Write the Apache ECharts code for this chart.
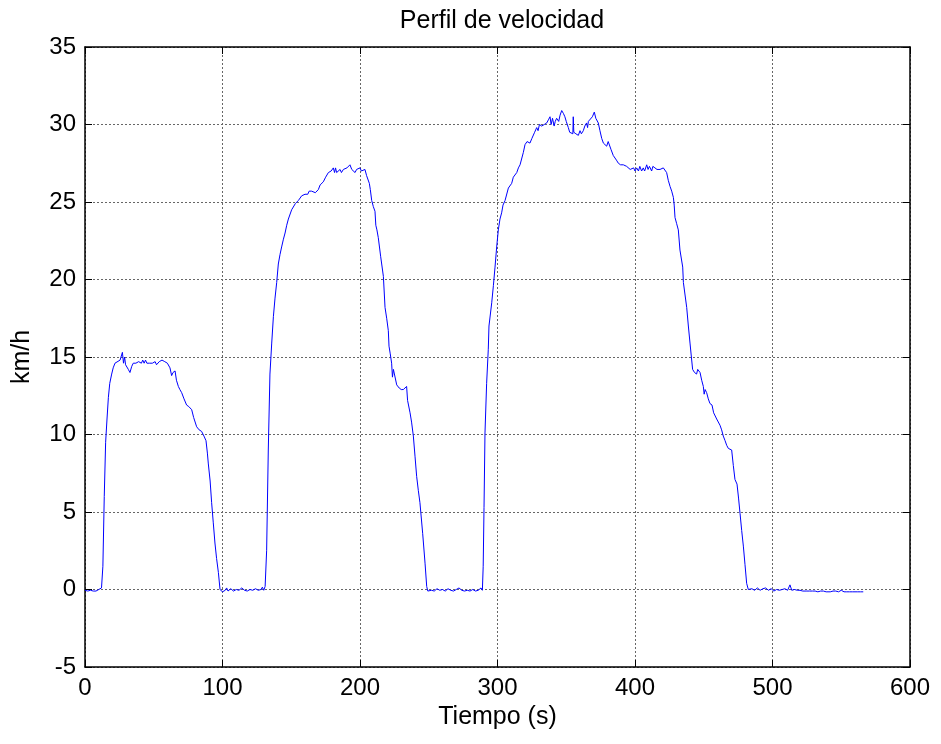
<!DOCTYPE html>
<html>
<head>
<meta charset="utf-8">
<title>Perfil de velocidad</title>
<script src="https://cdn.jsdelivr.net/npm/echarts@6/dist/echarts.min.js"></script>
<style>
  html, body { margin: 0; padding: 0; background: #fff; }
  #chart { width: 941px; height: 744px; }
</style>
</head>
<body>
<div id="chart"></div>
<script>
// tiempo en s, velocidad en km/h
const tiempo = [
  0, 2, 4, 6, 8, 10, 11, 12,
  13, 14, 15, 16, 17, 18, 19.4, 20.5, 21.8, 23, 25.5, 26, 27.2, 28, 28.8, 29.5, 30.3, 31.5, 32.7, 34, 35.1,
  37, 39, 41, 42, 43, 44, 45, 47, 49, 51, 52, 54, 56, 57, 58, 59.9, 61, 61.8, 63, 64, 65.5, 66.5, 67.9,
  69, 70.3, 72, 73.9, 75.5, 77.6, 79, 81.2, 83, 84.8, 86.5, 88, 89, 89.7, 91, 92.1, 93.3, 94.5, 95.7, 97, 98.2, 99, 100,
  102, 103, 104, 106, 108, 110, 112, 114, 116, 118, 120, 122, 124, 126, 128, 129, 130, 131,
  132.1, 133.3, 134.5, 135.8, 137, 138.2, 139.4, 140.6, 141.8, 143, 144.3, 145.5, 146.7, 147.9, 149.1, 150.3, 151.5,
  153, 155.2, 156.5, 157.6, 160, 162, 163, 164.8, 166, 167.5, 169.7, 171, 173.3, 175, 177, 179, 180.6, 181.5, 182.2,
  183, 184, 185.5, 186.5, 187.9, 189, 190.5, 191.5, 192.7, 194, 195.2, 196.4, 197.5, 198.8, 200, 201, 202, 203.6,
  204.8, 206.8, 207.5, 208.5, 209.7, 210.9, 211.5, 212.3, 213.3, 215, 217, 218.2, 219.4, 220.6, 221.1, 222, 223,
  223.6, 224.3, 225.5, 226.7, 228.5, 230, 231.5, 233.9, 234.6, 236.4, 237.5, 238.8, 240, 241.2, 242.4, 243.6,
  245.6, 247.3, 248.5, 249.3, 250,
  252, 254, 256, 258, 260, 262, 264, 266, 268, 270, 272, 274, 276, 278, 280, 282, 284, 286, 288, 289,
  289.6, 290.2, 290.9, 292.1, 293.3, 293.8, 295.8, 297, 298.2, 299.4, 300.6, 301.8, 303, 304, 305.5, 306.5, 307.9,
  309, 310.3, 311.5, 312.7, 314, 315.2, 316.4, 317.6, 318.8, 320, 321.5, 323.6, 325, 326, 327, 328.5, 329.5, 330.5,
  332.1, 334, 335.8, 337, 338.2, 339, 340, 341.2, 342, 343, 344.5, 345.5, 346.7, 348, 349, 350, 351.5, 352.5, 353.9,
  354.8, 355.1, 355.5, 357, 358.8, 360, 361, 362.4, 363.5, 364.8, 365.5, 366.1, 367.5, 369, 370.4, 371.5, 372.5,
  373.3, 374.5, 375.8, 377, 378, 379.4, 380.5, 381.8, 382.5, 383.5, 384.2, 385.5, 386.5, 387.9, 389.5, 391.5, 393.9,
  395.2, 396.5, 397.6, 399, 400, 401.2, 402.5, 403.5, 404.8, 406, 407, 408.5, 409.5, 410.5, 412.1, 413, 414.5, 416,
  417, 418.2, 419.5, 420.6, 421.5, 423, 424.2, 425.5, 426.7, 427.9, 428.5, 429.1, 430.3, 431.5, 432.7, 434.7, 435.2,
  436.4, 437.6, 438.8, 440, 441, 441.9, 443.3, 444.8, 445.6, 446.5, 447.3, 448.5, 449.7, 450.3, 451, 452.1, 453.3,
  454.5, 456, 457.2, 458.2, 459.4, 460.6, 461.8, 463, 464.2, 465.5, 466.7, 467.9, 469, 470.3, 471.5, 472.7, 474.2,
  475.3, 476.4, 477.6, 478.8, 480, 481.2, 482.4, 483.5,
  485, 487, 489, 491, 493, 495, 497, 499, 501, 503, 505, 507, 509, 511, 512.7, 514, 516, 518, 520, 522, 523, 525,
  527, 529, 531, 533, 535, 537, 539, 540, 542, 544, 546, 548, 550, 552, 554, 556, 558, 560, 562, 564, 566
];
const velocidad = [
  -0.05, -0.1, -0.05, -0.1, -0.1, 0.0, -0.1, 0.1,
  1.5, 6, 9.5, 11, 12.4, 13.3, 13.9, 14.3, 14.6, 14.7, 14.8, 14.7, 15.3, 14.6, 15.0, 14.5, 14.5, 14.2, 14.0, 14.4, 14.6,
  14.6, 14.7, 14.6, 14.8, 14.6, 14.8, 14.6, 14.6, 14.6, 14.7, 14.5, 14.7, 14.8, 14.8, 14.7, 14.6, 14.5, 14.3, 13.8, 14.0, 14.1, 13.5, 13.1,
  12.9, 12.7, 12.3, 11.9, 11.8, 11.6, 11.1, 10.5, 10.3, 10.2, 9.9, 9.6, 8.8, 8.1, 7.0, 5.6, 4.3, 3.0, 2.0, 1.1, 0.0, -0.1, -0.15,
  -0.05, 0.1, -0.1, 0.05, -0.1, 0.0, -0.05, 0.1, -0.05, -0.1, 0.0, -0.05, 0.05, -0.05, 0.0, 0.15, -0.05, 0.2,
  2.5, 9.0, 13.9, 15.9, 17.6, 18.8, 19.8, 21.0, 21.6, 22.1, 22.6, 23.0, 23.5, 23.9, 24.0, 24.5, 24.6,
  24.9, 25.1, 25.0, 25.4, 25.5, 25.5, 25.7, 25.7, 25.8, 25.6, 25.8, 26.1, 26.3, 26.6, 26.9, 27.0, 27.2, 26.9, 27.2,
  26.9, 27.0, 27.1, 26.9, 27.1, 27.0, 27.2, 27.1, 27.4, 27.1, 27.0, 26.9, 27.1, 27.0, 27.2, 27.0, 27.1, 27.1,
  26.7, 26.2, 25.8, 25.1, 24.7, 24.4, 23.5, 23.2, 22.7, 21.5, 20.2, 18.2, 17.5, 16.7, 15.7, 15.2, 14.6,
  13.7, 14.2, 14.1, 13.2, 13.0, 12.9, 12.9, 13.1, 12.2, 11.4, 10.8, 9.9, 8.6, 7.3, 6.4, 5.6,
  3.6, 1.7, 0.2, -0.1, -0.1,
  -0.05, -0.1, 0.05, -0.05, 0.0, -0.1, 0.05, -0.05, -0.1, 0.0, 0.1, -0.05, -0.1, -0.05, -0.1, 0.0, -0.1, -0.05, 0.1, -0.05,
  1.5, 5.3, 10.1, 13.3, 15.5, 17.0, 18.5, 19.6, 20.8, 22.1, 23.2, 23.9, 24.3, 24.8, 25.1, 25.2, 25.9,
  25.8, 26.2, 26.6, 26.6, 26.9, 27.2, 27.4, 27.5, 28.2, 28.7, 28.9, 28.8, 29.1, 29.2, 29.5, 29.8, 29.6, 30.0,
  29.9, 30.0, 30.1, 30.3, 30.5, 30.0, 30.4, 29.9, 30.2, 30.4, 30.2, 30.6, 30.9, 30.7, 30.5, 30.2, 29.8, 29.5, 29.6,
  29.4, 30.5, 29.5, 29.4, 29.3, 29.6, 29.4, 29.6, 29.9, 30.1, 29.8, 30.2, 30.3, 30.5, 30.8, 30.4, 30.4,
  30.1, 29.6, 29.1, 28.8, 28.7, 28.6, 28.9, 29.0, 28.4, 28.5, 28.0, 28.0, 27.7, 27.5, 27.4, 27.4, 27.3,
  27.3, 27.1, 27.0, 27.2, 27.0, 27.2, 27.0, 27.3, 27.0, 27.2, 27.0, 27.4, 27.1, 27.3, 27.0, 27.3, 27.2, 27.1,
  27.0, 27.1, 27.2, 27.2, 27.2, 26.9, 26.4, 26.0, 25.7, 25.3, 24.8, 24.0, 23.6, 23.2, 21.9, 20.8, 19.8,
  19.0, 18.2, 17.0, 15.9, 15.0, 14.2, 14.0, 13.9, 14.2, 14.3, 14.0, 13.5, 13.1, 12.6, 12.9, 12.7, 12.3,
  12.0, 11.9, 11.4, 11.4, 11.0, 10.9, 10.6, 10.3, 9.9, 9.6, 9.3, 9.1, 9.0, 9.0, 8.0, 7.1, 6.8,
  5.9, 4.9, 3.8, 2.8, 1.6, 0.4, 0.0, -0.1,
  0.05, -0.05, 0.1, -0.05, 0.05, 0.1, -0.05, 0.05, -0.1, 0.0, -0.05, 0.0, 0.05, -0.05, 0.3, -0.05, 0.0, -0.05, -0.05, -0.1, 0.0, -0.1,
  -0.1, -0.1, -0.1, -0.15, -0.1, -0.1, -0.15, -0.05, -0.15, -0.1, -0.1, -0.15, -0.05, -0.15, -0.15, -0.15, -0.15, -0.15, -0.15, -0.15, -0.15
];
const xTicks = [0, 600, 100];   // min, max, intervalo
const yTicks = [-5, 35, 5];

let puntos = tiempo.map((t, i) => [t, velocidad[i]]);

let myChart = echarts.init(document.getElementById('chart'));

const fuente = 'Liberation Sans, Arial, sans-serif';
const rejilla = { show: true, lineStyle: { color: '#666', type: [2, 2], width: 1 } };
const marcas = { show: true, inside: true, length: 7, lineStyle: { color: '#000' } };
const linea = { show: true, onZero: false, lineStyle: { color: '#000', width: 1.5 } };

let option = {
  animation: false,
  backgroundColor: '#fff',
  title: {
    text: 'Perfil de velocidad',
    left: 497,
    textAlign: 'center',
    top: 4,
    textStyle: { fontFamily: fuente, fontSize: 25, fontWeight: 'normal', color: '#000' }
  },
  grid: { left: 85, right: 31, top: 47, bottom: 77 },
  xAxis: [
    {
      type: 'value',
      min: xTicks[0], max: xTicks[1], interval: xTicks[2],
      name: 'Tiempo (s)',
      nameLocation: 'middle',
      nameGap: 38,
      nameTextStyle: { fontFamily: fuente, fontSize: 25, color: '#000' },
      axisLine: linea,
      axisTick: marcas,
      axisLabel: { fontFamily: fuente, fontSize: 24, color: '#000', margin: 9 },
      splitLine: rejilla
    },
    {
      type: 'value',
      position: 'top',
      min: xTicks[0], max: xTicks[1], interval: xTicks[2],
      axisLine: linea,
      axisTick: marcas,
      axisLabel: { show: false },
      splitLine: { show: false }
    }
  ],
  yAxis: [
    {
      type: 'value',
      min: yTicks[0], max: yTicks[1], interval: yTicks[2],
      name: 'km/h',
      nameLocation: 'middle',
      nameGap: 50,
      nameTextStyle: { fontFamily: fuente, fontSize: 25, color: '#000' },
      axisLine: linea,
      axisTick: marcas,
      axisLabel: { fontFamily: fuente, fontSize: 24, color: '#000', margin: 9 },
      splitLine: rejilla
    },
    {
      type: 'value',
      position: 'right',
      min: yTicks[0], max: yTicks[1], interval: yTicks[2],
      axisLine: linea,
      axisTick: marcas,
      axisLabel: { show: false },
      splitLine: { show: false }
    }
  ],
  series: [
    {
      name: 'velocidad',
      type: 'line',
      data: puntos,
      showSymbol: false,
      lineStyle: { color: '#0000ff', width: 1 },
      itemStyle: { color: '#0000ff' }
    }
  ]
};

option && myChart.setOption(option);
</script>
</body>
</html>
